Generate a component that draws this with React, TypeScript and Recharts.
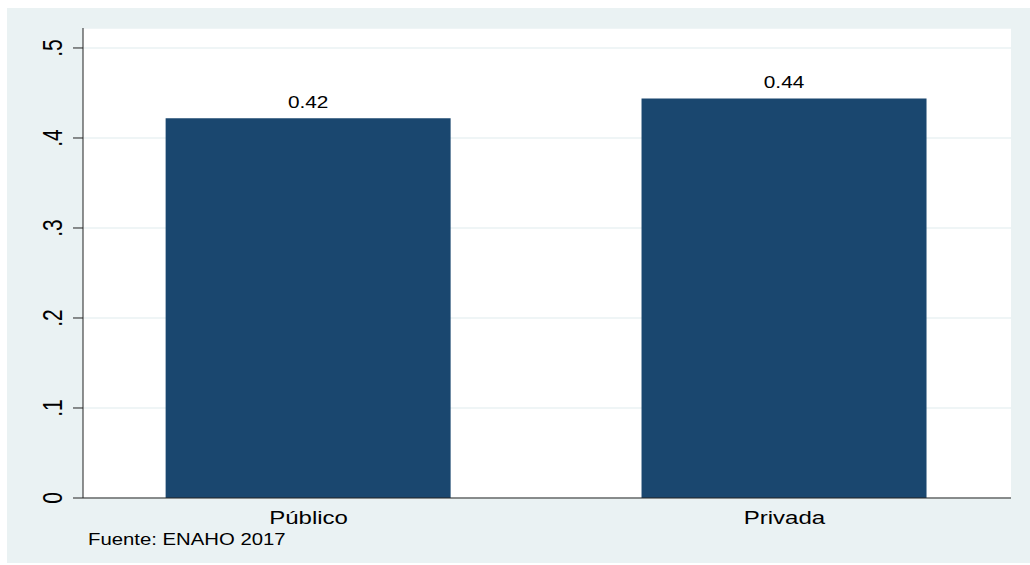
import React from "react";
import { BarChart, Bar, XAxis, YAxis, CartesianGrid, LabelList } from "recharts";

const categories = ["Público", "Privada"];
const positions = [1, 2];
const values = [0.422, 0.444];
const valueLabels = ["0.42", "0.44"];
const yTicks = [0, 0.1, 0.2, 0.3, 0.4, 0.5];
const yTickLabels = ["0", ".1", ".2", ".3", ".4", ".5"];

const NAVY = "#1a476f";
const BG = "#eaf2f3";
const FONT = "'Liberation Sans', Arial, sans-serif";
const STRETCH = 1.3;

const data = categories.map((name, i) => ({
  name,
  pos: positions[i],
  value: values[i],
  label: valueLabels[i],
}));

const YTick = ({ y, payload }: any) => {
  const i = yTicks.indexOf(payload.value);
  return (
    <text
      transform={`translate(45.5, ${y}) scale(${STRETCH},1) rotate(-90)`}
      textAnchor="middle"
      dy="0.36em"
      fontSize={21}
      fontFamily={FONT}
      fill="#000"
    >
      {i >= 0 ? yTickLabels[i] : payload.value}
    </text>
  );
};

const XTick = ({ x, payload }: any) => (
  <text
    transform={`translate(${x}, 516) scale(${STRETCH},1)`}
    textAnchor="middle"
    fontSize={18.5}
    fontFamily={FONT}
    fill="#000"
  >
    {categories[positions.indexOf(payload.value)]}
  </text>
);

const BarLabel = ({ x, y, width, index }: any) => (
  <text
    transform={`translate(${x + width / 2}, ${y - 10}) scale(${STRETCH},1)`}
    textAnchor="middle"
    fontSize={16}
    fontFamily={FONT}
    fill="#000"
  >
    {valueLabels[index]}
  </text>
);

export default function App() {
  return (
    <div
      style={{
        position: "absolute",
        left: 7,
        top: 8,
        width: 1023,
        height: 555,
        background: BG,
      }}
    >
      <BarChart
        width={1023}
        height={555}
        data={data}
        margin={{ top: 20, right: 19, left: 0, bottom: 0 }}
      >
        <CartesianGrid
          vertical={false}
          fill="#ffffff"
          stroke={BG}
          strokeWidth={1.5}
        />
        <XAxis
          type="number"
          dataKey="pos"
          domain={[0.526, 2.476]}
          ticks={positions}
          tick={<XTick />}
          tickLine={false}
          axisLine={{ stroke: "#222", strokeWidth: 1 }}
          height={65}
          allowDataOverflow
        />
        <YAxis
          type="number"
          domain={[0, 0.5222]}
          ticks={yTicks}
          tick={<YTick />}
          tickSize={10}
          tickLine={{ stroke: "#222", strokeWidth: 1 }}
          axisLine={{ stroke: "#222", strokeWidth: 1 }}
          width={76}
          allowDataOverflow
        />
        <Bar dataKey="value" fill={NAVY} barSize={285} isAnimationActive={false}>
          <LabelList dataKey="label" content={<BarLabel />} />
        </Bar>
      </BarChart>
      <div
        style={{
          position: "absolute",
          left: 81,
          top: 522,
          fontFamily: FONT,
          fontSize: 16,
          color: "#000",
          transform: `scaleX(1.27)`,
          transformOrigin: "left top",
          whiteSpace: "nowrap",
          lineHeight: "20px",
        }}
      >
        Fuente: ENAHO 2017
      </div>
    </div>
  );
}
